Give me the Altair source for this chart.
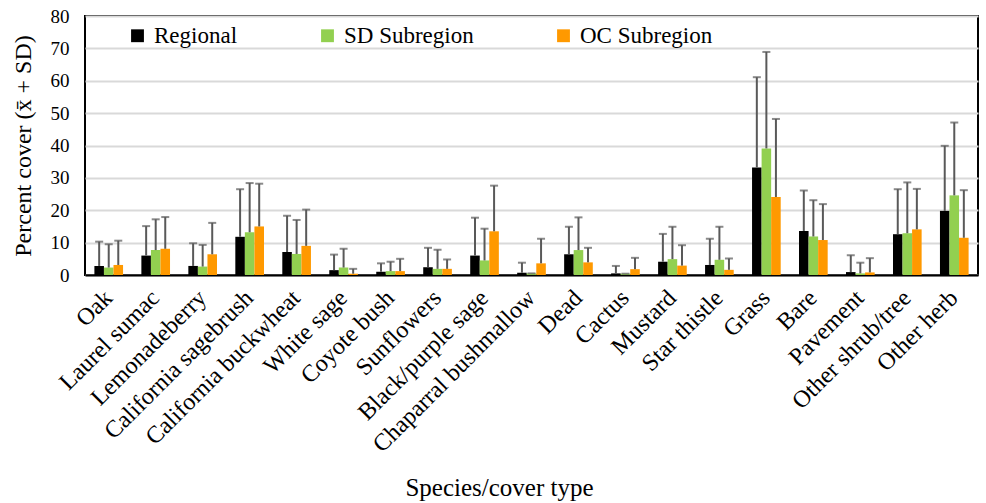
import altair as alt
import pandas as pd

categories = ["Oak", "Laurel sumac", "Lemonadeberry", "California sagebrush",
              "California buckwheat", "White sage", "Coyote bush", "Sunflowers",
              "Black/purple sage", "Chaparral bushmallow", "Dead", "Cactus",
              "Mustard", "Star thistle", "Grass", "Bare", "Pavement",
              "Other shrub/tree", "Other herb"]
series = ["Regional", "SD Subregion", "OC Subregion"]

regional_mean = [2.8, 6.0, 2.8, 11.8, 7.1, 1.5, 1.0, 2.4, 6.0, 0.7, 6.4, 0.5, 4.1, 3.1, 33.2, 13.6, 0.9, 12.6, 19.8]
regional_top  = [10.3, 15.1, 9.8, 26.5, 18.3, 6.3, 3.6, 8.4, 17.7, 3.8, 14.9, 2.8, 12.7, 11.2, 61.1, 26.1, 6.1, 26.5, 39.9]
sd_mean = [2.3, 7.7, 2.6, 13.2, 6.5, 2.3, 1.2, 1.9, 4.5, 0.5, 7.7, 0.4, 4.9, 4.7, 39.1, 11.9, 0.5, 12.9, 24.6]
sd_top  = [9.5, 17.2, 9.3, 28.4, 17.0, 8.1, 4.1, 7.8, 14.3, 0.5, 17.8, 0.4, 14.9, 14.9, 68.9, 23.1, 3.8, 28.6, 47.1]
oc_mean = [3.1, 8.1, 6.4, 15.0, 9.0, 0.4, 1.2, 1.9, 13.5, 3.6, 3.9, 1.8, 2.9, 1.6, 24.1, 10.8, 0.8, 14.1, 11.5]
oc_top  = [10.6, 17.9, 16.1, 28.2, 20.2, 1.9, 5.0, 4.8, 27.6, 11.2, 8.4, 5.3, 9.2, 5.1, 48.2, 21.9, 5.2, 26.6, 26.2]
y_ticks = [0, 10, 20, 30, 40, 50, 60, 70, 80]

colors = ["#000000", "#92D050", "#FF9900"]

rows = []
for s, means, tops in zip(series, [regional_mean, sd_mean, oc_mean], [regional_top, sd_top, oc_top]):
    for c, m, t in zip(categories, means, tops):
        rows.append({"cat": c, "series": s, "mean": m, "top": t})
df = pd.DataFrame(rows)

FONT = "Liberation Serif"

x_scale = alt.Scale(paddingInner=0.39, paddingOuter=0.2)
x_axis = alt.Axis(title="Species/cover type", labelAngle=-45, labelAlign="right",
                  labelBaseline="middle", labelFontSize=24, labelColor="black",
                  labelFont=FONT, ticks=False, labelPadding=19,
                  labelOverlap=False, labelLimit=400,
                  titleFont=FONT, titleFontSize=25, titleFontWeight="normal",
                  titleColor="black", titleX=414, titleY=220,
                  titleBaseline="alphabetic", titleAnchor="middle",
                  domainColor="black", domainWidth=2)
y_scale = alt.Scale(domain=[0, 80], nice=False)
y_axis = alt.Axis(title="Percent cover (x\u0304 + SD)", values=y_ticks, tickCount=9,
                  labelFontSize=19, labelFont=FONT, labelColor="black",
                  ticks=False, domain=False, labelPadding=16, labelOverlap=False,
                  gridColor="#D9D9D9", gridWidth=2,
                  titleFont=FONT, titleFontSize=24, titleFontWeight="normal",
                  titleColor="black", titlePadding=15)
xoff = alt.XOffset("series:N", sort=series, scale=alt.Scale(paddingInner=0, paddingOuter=0))

bars = alt.Chart(df).mark_bar().encode(
    x=alt.X("cat:N", sort=categories, scale=x_scale, axis=x_axis),
    xOffset=xoff,
    y=alt.Y("mean:Q", scale=y_scale, axis=y_axis),
    color=alt.Color("series:N", sort=series,
                    scale=alt.Scale(domain=series, range=colors),
                    legend=alt.Legend(title=None, orient="none", legendX=41, legendY=8,
                                      direction="horizontal", columns=3, columnPadding=78,
                                      symbolType="square", symbolSize=165,
                                      symbolStrokeWidth=0, labelFont=FONT,
                                      labelFontSize=23, labelColor="black", labelOffset=5,
                                      labelLimit=300)),
)

err = alt.Chart(df).mark_rule(color="#595959", strokeWidth=2).encode(
    x=alt.X("cat:N", sort=categories, scale=x_scale, axis=x_axis),
    xOffset=xoff,
    y=alt.Y("mean:Q", scale=y_scale, axis=y_axis),
    y2="top:Q",
)

caps = alt.Chart(df).mark_tick(color="#595959", thickness=2, size=8).encode(
    x=alt.X("cat:N", sort=categories, scale=x_scale, axis=x_axis),
    xOffset=xoff,
    y=alt.Y("top:Q", scale=y_scale, axis=y_axis),
)

chart = alt.layer(bars, err, caps).properties(
    width=893, height=259,
    background="white",
    autosize=alt.AutoSizeParams(type="none"),
    padding={"left": 85, "top": 16, "right": 8, "bottom": 228},
).configure_view(stroke="black", strokeWidth=2)

chart.save("out.html", embed_options={"renderer": "svg", "actions": False})
